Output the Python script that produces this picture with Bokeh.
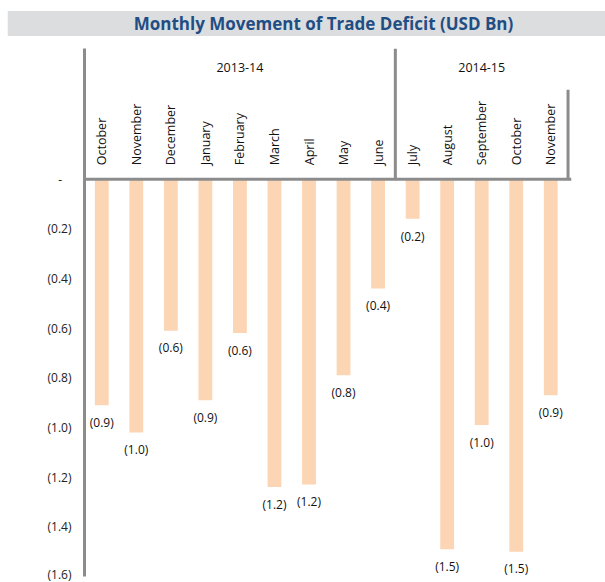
import math
from bokeh.plotting import figure
from bokeh.models import Range1d, FixedTicker, ColumnDataSource, Span
from bokeh.core.properties import value
from bokeh.embed import file_html
from bokeh.resources import INLINE

months = ["October", "November", "December", "January", "February", "March",
          "April", "May", "June", "July", "August", "September", "October", "November"]
years = ["2013-14", "2014-15"]
year_sizes = [9, 5]
deficit = [-0.91, -1.02, -0.61, -0.89, -0.62, -1.24, -1.23, -0.79, -0.44,
           -0.16, -1.49, -0.99, -1.50, -0.87]
y_ticks = [0, -0.2, -0.4, -0.6, -0.8, -1.0, -1.2, -1.4, -1.6]
y_tick_labels = ["-\u00a0\u00a0\u00a0", "(0.2)", "(0.4)", "(0.6)", "(0.8)", "(1.0)",
                 "(1.2)", "(1.4)", "(1.6)"]

FONT = "Open Sans"
GRAY = "#8C8C8C"
n = len(months)
xs = [i + 0.5 for i in range(n)]
labels = ["(%.1f)" % abs(v) for v in deficit]

p = figure(width=605, height=582, output_backend="svg", toolbar_location=None,
           x_range=Range1d(0, n + 0.1), y_range=Range1d(-1.6, 0.526),
           x_axis_location=None, min_border_left=84, min_border_right=34,
           min_border_top=47, min_border_bottom=6)
p.grid.visible = False
p.outline_line_color = None

p.title.text = "Monthly Movement of Trade Deficit (USD Bn)"
p.title.text_font = FONT
p.title.text_font_style = "bold"
p.title.text_font_size = "17px"
p.title.text_color = "#1F4E84"
p.title.align = "center"
p.title.vertical_align = "top"
p.title.background_fill_color = "#DCDDDE"
p.title.padding = (126, 135, 1, 1)
p.title.standoff = 21

ax = p.yaxis[0]
ax.ticker = FixedTicker(ticks=y_ticks)
ax.major_label_overrides = dict(zip(y_ticks, y_tick_labels))
ax.major_tick_in = 0
ax.major_tick_out = 0
ax.minor_tick_in = 0
ax.minor_tick_out = 0
ax.major_label_standoff = 13
ax.axis_line_color = GRAY
ax.axis_line_width = 3
ax.major_label_text_font = FONT
ax.major_label_text_font_size = "12px"
ax.major_label_text_color = "#222222"

src = ColumnDataSource(dict(x=xs, top=[0] * n, bottom=deficit, month=months,
                            label=labels, ly=[v - 0.035 for v in deficit]))
p.vbar(x="x", top="top", bottom="bottom", width=0.4, source=src,
       fill_color="#FCD5B4", line_color=None)

p.add_layout(Span(location=0, dimension="width", line_color=GRAY, line_width=3))

# group separators
bounds = [0]
for s in year_sizes:
    bounds.append(bounds[-1] + s)
p.segment(x0=[bounds[1]], y0=[0], x1=[bounds[1]], y1=[0.526], line_color=GRAY, line_width=3)
p.segment(x0=[bounds[2]], y0=[0], x1=[bounds[2]], y1=[0.36], line_color=GRAY, line_width=3)

# month labels
p.text(x="x", y=0.056, text="month", source=src, angle=math.pi / 2,
       text_align="left", text_baseline="middle", text_font=value(FONT),
       text_font_size="12.5px", text_color="#111111")

# year labels
p.text(x=[(bounds[0] + bounds[1]) / 2, (bounds[1] + bounds[2]) / 2], y=[0.45, 0.45],
       text=years, text_align="center", text_baseline="middle",
       text_font=value(FONT), text_font_size="12.5px", text_color="#111111")

# data labels
p.text(x="x", y="ly", text="label", source=src, text_align="center",
       text_baseline="top", text_font=value(FONT), text_font_size="12px",
       text_color="#111111")

open("out.html", "w").write(file_html(p, INLINE))
